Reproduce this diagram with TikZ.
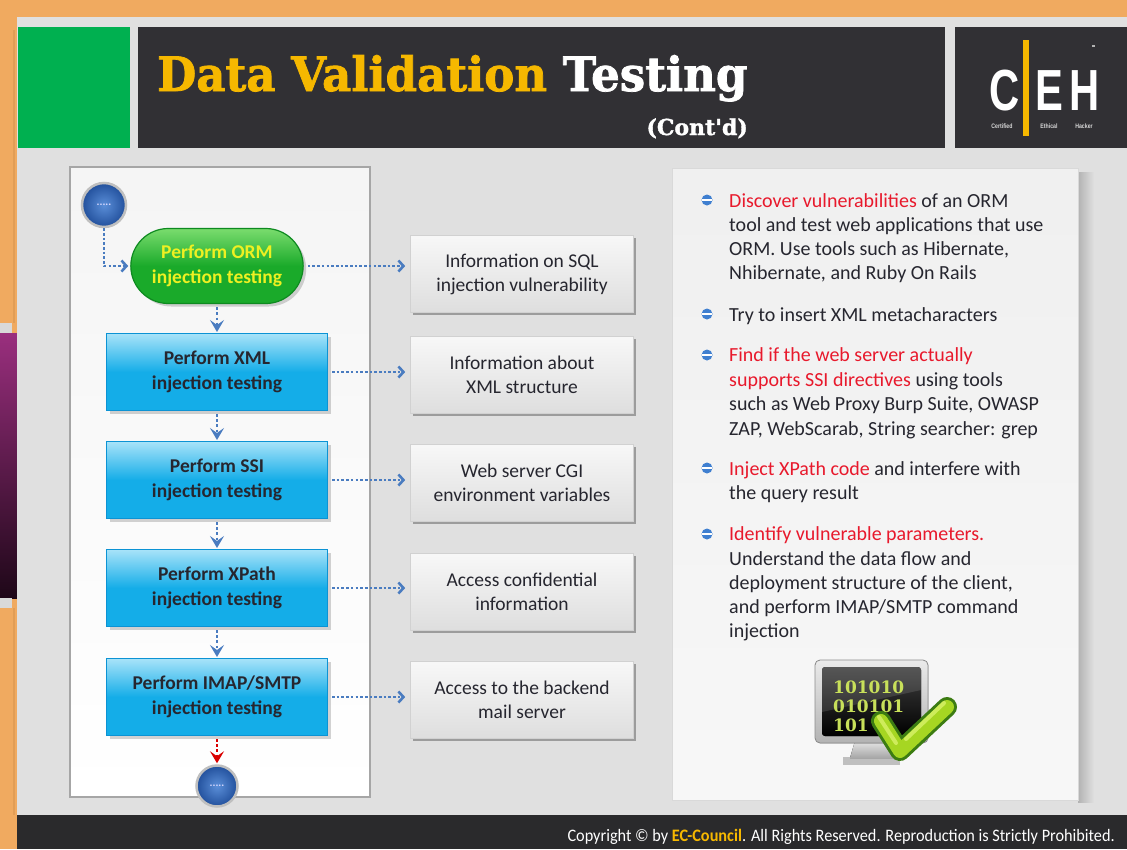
\documentclass[tikz,border=0pt]{standalone}
\usepackage{fontspec}
\setmainfont{Carlito}
\newfontfamily\slabfont{DejaVu Serif}
\newfontfamily\heavyslab{DejaVu Serif Bold}[FakeBold=1.6]
\newfontfamily\logofont{Liberation Sans}
\usetikzlibrary{arrows.meta,shapes.misc,shadows}

\definecolor{frameorange}{HTML}{F0AA60}
\definecolor{slidegray}{HTML}{E0E0E0}
\definecolor{headdark}{HTML}{313034}
\definecolor{footdark}{HTML}{2A2A2C}
\definecolor{ecgreen}{HTML}{00B050}
\definecolor{titlegold}{HTML}{F6B800}
\definecolor{flowblue}{HTML}{4A7CC0}
\definecolor{boxblue}{HTML}{14ADE8}
\definecolor{boxbluetop}{HTML}{A8E3F9}
\definecolor{boxedge}{HTML}{0C93D4}
\definecolor{ormgreen}{HTML}{1AAA2A}
\definecolor{ormgreentop}{HTML}{7ADC6E}
\definecolor{ormedge}{HTML}{0E8A20}
\definecolor{ormtext}{HTML}{EEF022}
\definecolor{inktext}{HTML}{26262F}
\definecolor{hotred}{HTML}{E8192C}
\definecolor{bulletblue}{HTML}{3F7FD0}
\definecolor{purpletop}{HTML}{9A2F7E}
\definecolor{purplebot}{HTML}{1E0718}
\definecolor{codegreen}{HTML}{C8E05A}
\definecolor{checkdark}{HTML}{3C7C12}
\definecolor{checklime}{HTML}{A6D622}
\definecolor{checklight}{HTML}{D8F26A}
\definecolor{termouter}{HTML}{22509C}
\definecolor{terminner}{HTML}{5A8ED8}

\newcommand{\hot}[1]{\textcolor{hotred}{#1}}

\begin{document}
\begin{tikzpicture}[x=1pt,y=-1pt,
  panel/.style={draw=black!35, line width=1.2pt},
  stepbox/.style={rectangle, minimum width=221pt, minimum height=77pt,
    top color=boxbluetop, bottom color=boxblue, middle color=boxblue,
    draw=boxedge, line width=1pt, align=center, text=inktext,
    font=\bfseries\fontsize{19.5}{24.5}\selectfont,
    drop shadow={shadow xshift=3pt, shadow yshift=-3pt, opacity=0.35}},
  ormbox/.style={rounded rectangle, minimum width=179pt, minimum height=75pt,
    top color=ormgreentop, bottom color=ormgreen, middle color=ormgreen,
    draw=ormedge, line width=1.2pt, align=center, text=ormtext,
    font=\bfseries\fontsize{19.5}{24.5}\selectfont,
    drop shadow={shadow xshift=3pt, shadow yshift=-3pt, opacity=0.35}},
  infobox/.style={rectangle, minimum width=223pt, minimum height=77pt,
    top color=black!3, bottom color=black!13, draw=black!18, line width=0.6pt,
    align=center, text=inktext, font=\fontsize{19.5}{24}\selectfont,
    drop shadow={shadow xshift=2.5pt, shadow yshift=-2.5pt, fill=black!45, opacity=0.8}},
  terminal/.style={circle, minimum size=44pt, inner sep=0pt,
    inner color=terminner, outer color=termouter,
    draw=black!25, line width=2.5pt, text=white!85!blue, font=\bfseries\fontsize{11}{11}\selectfont},
  flowline/.style={flowblue, line width=2.8pt, dash pattern=on 2.6pt off 2.1pt,
    -{Straight Barb[length=5pt,width=11pt,line width=2.6pt]}},
  downflow/.style={flowblue, line width=2.8pt, dash pattern=on 2.6pt off 2.6pt,
    -{Stealth[length=12pt,width=14pt,inset=5pt]}, shorten <=3pt, shorten >=1pt},
  bulletdot/.style={circle, minimum size=11pt, inner sep=0pt, fill=bulletblue,
    path picture={\draw[white, line width=2pt]
      (path picture bounding box.west) -- (path picture bounding box.east);}},
  bodytext/.style={anchor=base west, inner sep=0pt, text=inktext,
    font=\fontsize{20}{24}\selectfont},
  bincode/.style={anchor=base west, inner sep=0pt, text=codegreen,
    font=\slabfont\bfseries\fontsize{17}{17}\selectfont},
  logoword/.style={inner sep=0pt, text=white!85!black,
    font=\logofont\bfseries\fontsize{6.5}{7}\selectfont}
]
\useasboundingbox (0,0) rectangle (1127,849);

% outer frame, side band and slide
\fill[frameorange] (0,0) rectangle (1127,849);
\fill[top color=purpletop, bottom color=purplebot] (0,333) rectangle (17,598);
\fill[black!15] (0,323) rectangle (12,333);
\fill[black!15] (0,598) rectangle (12,608);
\draw[frameorange!70!brown, line width=1.5pt] (14,30) -- (14,323) (14,608) -- (14,815);
\fill[slidegray] (17,17) rectangle (1127,815);
\fill[footdark] (17,815) rectangle (1127,849);

% header
\fill[ecgreen] (18,27) rectangle (130,148);
\fill[headdark] (138,27) rectangle (945,148);
\fill[headdark] (955,27) rectangle (1127,148);
\node[anchor=base west, inner sep=0pt, text=titlegold] (title) at (157,91)
  {\resizebox{590pt}{36pt}{\heavyslab Data Validation \textcolor{white}{Testing}}};
\node[anchor=base east, inner sep=0pt, text=white, font=\heavyslab\fontsize{22}{22}\selectfont]
  (contd) at (748,135) {(Cont'd)};

% CEH logo
\fill[titlegold] (1023,40) rectangle (1029,136);
\node[anchor=base, inner sep=0pt, text=white] (logoC) at (1005,110)
  {\scalebox{0.72}[1]{\logofont\bfseries\fontsize{58}{58}\selectfont C}};
\node[anchor=base, inner sep=0pt, text=white] (logoE) at (1049,110)
  {\scalebox{0.72}[1]{\logofont\bfseries\fontsize{58}{58}\selectfont E}};
\node[anchor=base, inner sep=0pt, text=white] (logoH) at (1085,110)
  {\scalebox{0.72}[1]{\logofont\bfseries\fontsize{58}{58}\selectfont H}};
\node[logoword] (logoA) at (1002,126) {\scalebox{0.8}[1]{Certified}};
\node[logoword] (logoB) at (1049,126) {\scalebox{0.8}[1]{Ethical}};
\node[logoword] (logoD) at (1084,126) {\scalebox{0.8}[1]{Hacker}};
\fill[white!70!black] (1092,45) rectangle (1095,47);

% panels
\fill[top color=black!4, bottom color=white] (70,167) rectangle (370,797);
\draw[panel] (70,167) rectangle (370,797);
\fill[left color=black!30, right color=slidegray] (1078,172) rectangle (1094,802);
\fill[top color=black!6, bottom color=white!97!black] (672,168) rectangle (1078,800);
\draw[black!15, line width=0.8pt] (672,168) rectangle (1078,800);

% flow of tests
\node[terminal] (start) at (104,205) {.....};
\node[ormbox] (orm) at (217,266) {Perform ORM\\injection testing};
\node[stepbox] (xml) at (217,372) {Perform XML\\injection testing};
\node[stepbox] (ssi) at (217,480) {Perform SSI\\injection testing};
\node[stepbox] (xpath) at (217,588) {Perform XPath\\injection testing};
\node[stepbox] (imap) at (217,697) {Perform IMAP/SMTP\\injection testing};
\node[terminal, minimum size=41pt] (end) at (217,786) {.....};

% outcomes
\node[infobox] (i1) at (522,274) {Information on SQL\\injection vulnerability};
\node[infobox] (i2) at (522,375) {Information about\\XML structure};
\node[infobox] (i3) at (522,483) {Web server CGI\\environment variables};
\node[infobox] (i4) at (522,592) {Access confidential\\information};
\node[infobox] (i5) at (522,700) {Access to the backend\\mail server};

% connectors
\draw[flowline, shorten >=2pt] (start.south) |- (orm.west);
\draw[downflow] (orm.south) -- (xml.north);
\draw[downflow] (xml.south) -- (ssi.north);
\draw[downflow] (ssi.south) -- (xpath.north);
\draw[downflow] (xpath.south) -- (imap.north);
\draw[downflow, red!85!black] (imap.south) -- (end.north);
\draw[flowline, shorten <=4pt, shorten >=5pt] (orm.east) -- (orm.east -| i1.west);
\draw[flowline, shorten <=4pt, shorten >=5pt] (xml.east) -- (xml.east -| i2.west);
\draw[flowline, shorten <=4pt, shorten >=5pt] (ssi.east) -- (ssi.east -| i3.west);
\draw[flowline, shorten <=4pt, shorten >=5pt] (xpath.east) -- (xpath.east -| i4.west);
\draw[flowline, shorten <=4pt, shorten >=5pt] (imap.east) -- (imap.east -| i5.west);

% bullet list
\node[bulletdot] (b1) at (707,200) {};
\node[bulletdot] (b2) at (707,314) {};
\node[bulletdot] (b3) at (707,355) {};
\node[bulletdot] (b4) at (707,468) {};
\node[bulletdot] (b5) at (707,534) {};
\foreach \nm/\yy/\txt in {
  t1/207/{\hot{Discover vulnerabilities} of an ORM},
  t2/231.5/{tool and test web applications that use},
  t3/255.5/{ORM. Use tools such as Hibernate,},
  t4/279.5/{Nhibernate, and Ruby On Rails},
  t5/321/{Try to insert XML metacharacters},
  t6/361.5/{\hot{Find if the web server actually}},
  t7/386/{\hot{supports SSI directives} using tools},
  t8/410.5/{such as Web Proxy Burp Suite, OWASP},
  t9/435/{ZAP, WebScarab, String searcher: grep},
  t10/475/{\hot{Inject XPath code} and interfere with},
  t11/499.5/{the query result},
  t12/540.5/{\hot{Identify vulnerable parameters.}},
  t13/565/{Understand the data flow and},
  t14/589/{deployment structure of the client,},
  t15/613.5/{and perform IMAP/SMTP command},
  t16/637.5/{injection}}
  \node[bodytext] (\nm) at (729,\yy) {\txt};

% monitor with check mark
\fill[black!25] (843,757) rectangle (900,765);
\fill[top color=black!10, bottom color=black!35] (855,741) -- (888,741) -- (893,758) -- (850,758) -- cycle;
\fill[top color=black!8, bottom color=black!30, draw=black!45, line width=0.8pt, rounded corners=5pt]
  (815,660) rectangle (928,743);
\fill[top color=black!75, bottom color=black, rounded corners=3pt] (822,667) rectangle (921,736);
\fill[white, opacity=0.12] (822,667) -- (921,667) -- (921,690) -- (822,712) -- cycle;
\node[bincode] (bin1) at (833,693) {101010};
\node[bincode] (bin2) at (833,712) {010101};
\node[bincode] (bin3) at (833,731) {101};
\draw[checkdark, line width=20pt, line join=round, line cap=round] (881,721) -- (900,751) -- (947,707);
\draw[checklime, line width=14pt, line join=round, line cap=round] (881,721) -- (900,751) -- (947,707);
\draw[checklight, line width=4pt, line cap=round, opacity=0.8] (879,717) -- (896,743);
\draw[checklight, line width=4pt, line cap=round, opacity=0.8] (906,739) -- (944,703);

% footer
\node[anchor=base east, inner sep=0pt, text=white] (copyright) at (1115,841)
  {\scalebox{0.93}[1]{\fontsize{17.5}{18}\selectfont Copyright \textcopyright{} by
   \textcolor{titlegold}{\textbf{EC-Council}}. All Rights Reserved. Reproduction is Strictly Prohibited.}};
\end{tikzpicture}
\end{document}
